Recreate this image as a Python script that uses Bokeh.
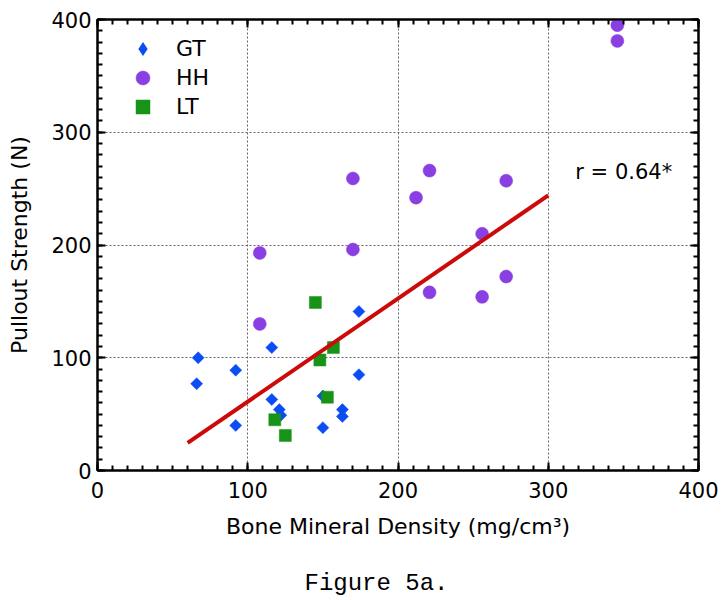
import math
from bokeh.plotting import figure
from bokeh.models import (LinearAxis, SingleIntervalTicker, Range1d,
                          Legend, LegendItem, Label, Title)
from bokeh.embed import file_html
from bokeh.resources import INLINE

# ---- data ----
gt_x = [67, 66, 92, 92, 116, 116, 121, 122, 150, 150, 163, 163, 174, 174]
gt_y = [100, 77, 89, 40, 109, 63, 54, 49, 66, 38, 54, 48, 141, 85]

hh_x = [108, 108, 170, 170, 346, 346, 221, 212, 272, 256, 272, 221, 256]
hh_y = [130, 193, 259, 196, 395, 381, 266, 242, 257, 210, 172, 158, 154]

lt_x = [145, 157, 148, 153, 118, 125]
lt_y = [149, 109, 98, 65, 45, 31]

fit_x = [60, 300]
fit_y = [24.5, 244]

series_names = ["GT", "HH", "LT"]
r_text = "r = 0.64*"
r_pos = (318, 265)

x_label = "Bone Mineral Density (mg/cm³)"
y_label = "Pullout Strength (N)"
caption = "Figure 5a."

FONT = "DejaVu Sans"

p = figure(width=720, height=598, output_backend="svg", toolbar_location=None,
           x_range=Range1d(0, 400), y_range=Range1d(0, 400),
           min_border_left=97, min_border_right=22, min_border_top=19, min_border_bottom=128)
p.background_fill_color = "white"
p.border_fill_color = "white"
p.outline_line_color = "black"
p.outline_line_width = 2


def style_axis(ax, labels=True):
    ax.ticker = SingleIntervalTicker(interval=100, num_minor_ticks=10)
    ax.axis_line_color = "black"
    ax.axis_line_width = 2
    ax.major_tick_in = 8
    ax.major_tick_out = 0
    ax.minor_tick_in = 5
    ax.minor_tick_out = 0
    ax.major_tick_line_width = 2
    ax.minor_tick_line_width = 2
    ax.major_tick_line_color = "black"
    ax.minor_tick_line_color = "black"
    if labels:
        ax.major_label_text_font = FONT
        ax.major_label_text_font_size = "21px"
        ax.major_label_text_color = "black"
        ax.axis_label_text_font = FONT
        ax.axis_label_text_font_size = "22px"
        ax.axis_label_text_font_style = "normal"
        ax.axis_label_text_color = "black"
    else:
        ax.major_label_text_font_size = "0px"
        ax.major_label_text_color = None
        ax.major_label_standoff = 0


xa = p.xaxis[0]
ya = p.yaxis[0]
style_axis(xa)
style_axis(ya)
xa.axis_label = x_label
ya.axis_label = y_label
xa.major_label_standoff = 11
xa.axis_label_standoff = 13
ya.major_label_standoff = 6
ya.axis_label_standoff = 16

top = LinearAxis()
style_axis(top, labels=False)
p.add_layout(top, "above")
right = LinearAxis()
style_axis(right, labels=False)
p.add_layout(right, "right")

for g in (p.xgrid[0], p.ygrid[0]):
    g.ticker = SingleIntervalTicker(interval=100, num_minor_ticks=10)
    g.grid_line_color = "#666666"
    g.grid_line_dash = "2 2"
    g.grid_line_width = 1

BLUE = "#0A4DF2"
PURPLE = "#8A3FE3"
GREEN = "#179417"
RED = "#CC0A0A"

r_gt = p.scatter(x=gt_x, y=gt_y, marker="square", angle=math.pi / 4, size=8.5,
                 fill_color=BLUE, line_color=BLUE, line_width=0.5)
r_hh = p.scatter(x=hh_x, y=hh_y, marker="circle", size=13,
                 fill_color=PURPLE, line_color=PURPLE, line_width=0.5)
r_lt = p.scatter(x=lt_x, y=lt_y, marker="square", size=12,
                 fill_color=GREEN, line_color=GREEN, line_width=0.5)
p.line(x=fit_x, y=fit_y, line_color=RED, line_width=4)

# legend-only renderer: diamond swatch (size 0 on the plot itself)
r_gt_leg = p.scatter(x=gt_x, y=gt_y, marker="diamond", size=0,
                     fill_color=BLUE, line_color=None)

leg_renderers = [r_gt_leg, r_hh, r_lt]
row_bottoms = [404.5, 375.5, 346.5]   # screen offsets of each legend row within the frame
for name, rend, vy in zip(series_names, leg_renderers, row_bottoms):
    lg = Legend(items=[LegendItem(label=name, renderers=[rend])],
                location=(28, vy), orientation="vertical",
                glyph_width=35, glyph_height=35, label_height=35, spacing=0,
                label_standoff=16, padding=0, margin=0,
                border_line_alpha=0, background_fill_alpha=0,
                label_text_font=FONT, label_text_font_size="22px",
                label_text_color="black")
    p.add_layout(lg)

p.add_layout(Label(x=r_pos[0], y=r_pos[1], text=r_text, text_font=FONT,
                   text_font_size="21px", text_color="black",
                   text_align="left", text_baseline="middle"))

p.add_layout(Title(text=caption, align="left", offset=207, standoff=0,
                   padding=(0, 0, 26, 0),
                   text_font="Liberation Mono", text_font_size="24px",
                   text_font_style="normal", text_color="black"), "below")

open("out.html", "w").write(file_html(p, INLINE))
